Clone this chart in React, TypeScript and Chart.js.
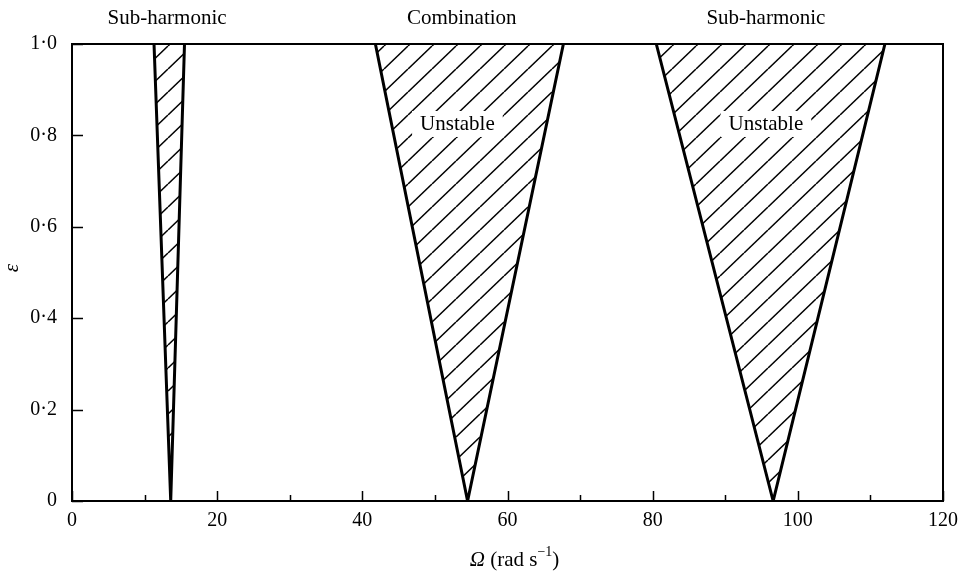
import React, { useEffect, useRef } from 'react';
import { Chart, registerables } from 'chart.js';

Chart.register(...registerables);

// Axis ranges and ticks
const X_MIN = 0;
const X_MAX = 120;
const X_STEP = 20;
const xMinorTicks = [10, 30, 50, 70, 90, 110];
const Y_MIN = 0;
const Y_MAX = 1.0;
const Y_STEP = 0.2;

// Unstable regions: Ω of the lower boundary at ε = 1, Ω at ε = 0, Ω of the upper boundary at ε = 1
const regionNames = ['Sub-harmonic', 'Combination', 'Sub-harmonic'];
const regionNameOmega = [13.1, 53.7, 95.6];
const lowerEdgeTopOmega = [11.3, 41.8, 80.5];
const apexOmega = [13.6, 54.5, 96.6];
const upperEdgeTopOmega = [15.5, 67.7, 112.0];
const epsTop = 1.0;
const epsApex = 0;

// "Unstable" annotations inside the wider regions
const unstableText = 'Unstable';
const unstableOmega = [53.1, 95.6];
const unstableEps = 0.825;

const SERIF = '"Liberation Serif", "Times New Roman", serif';
const W = 962;
const H = 572;

function makeHatch(ctx: CanvasRenderingContext2D): CanvasPattern | string {
  const tw = 24;
  const th = 23;
  const c = document.createElement('canvas');
  c.width = tw;
  c.height = th;
  const g = c.getContext('2d');
  if (!g) return '#fff';
  g.fillStyle = '#fff';
  g.fillRect(0, 0, tw, th);
  g.strokeStyle = '#000';
  g.lineWidth = 1.5;
  for (const dx of [-tw, 0, tw]) {
    g.beginPath();
    g.moveTo(dx, th);
    g.lineTo(dx + tw, 0);
    g.stroke();
  }
  return ctx.createPattern(c, 'repeat') || '#fff';
}

const decorPlugin = {
  id: 'decor',
  afterDatasetsDraw(chart: any) {
    const { ctx, chartArea: a, scales } = chart;
    const x = scales.x;
    const y = scales.y;
    ctx.save();

    // "Unstable" labels on white boxes
    ctx.font = `21px ${SERIF}`;
    ctx.textAlign = 'center';
    ctx.textBaseline = 'middle';
    unstableOmega.forEach((o) => {
      const px = x.getPixelForValue(o);
      const py = y.getPixelForValue(unstableEps);
      const w = ctx.measureText(unstableText).width;
      ctx.fillStyle = '#fff';
      ctx.fillRect(px - w / 2 - 8, py - 13, w + 16, 26);
      ctx.fillStyle = '#000';
      ctx.fillText(unstableText, px, py + 1);
    });

    // Frame
    ctx.strokeStyle = '#000';
    ctx.lineWidth = 2;
    ctx.strokeRect(a.left, a.top, a.right - a.left, a.bottom - a.top);

    // Inward tick marks
    ctx.lineWidth = 1.5;
    ctx.beginPath();
    for (let v = X_MIN; v <= X_MAX; v += X_STEP) {
      const px = Math.round(x.getPixelForValue(v)) + 0.5;
      ctx.moveTo(px, a.bottom);
      ctx.lineTo(px, a.bottom - 10);
    }
    xMinorTicks.forEach((v) => {
      const px = Math.round(x.getPixelForValue(v)) + 0.5;
      ctx.moveTo(px, a.bottom);
      ctx.lineTo(px, a.bottom - 6);
    });
    for (let v = Y_MIN; v <= Y_MAX + 1e-9; v += Y_STEP) {
      const py = Math.round(y.getPixelForValue(v)) + 0.5;
      ctx.moveTo(a.left, py);
      ctx.lineTo(a.left + 11, py);
    }
    ctx.stroke();

    // Region names above the plot
    ctx.fillStyle = '#000';
    ctx.font = `21px ${SERIF}`;
    ctx.textAlign = 'center';
    ctx.textBaseline = 'middle';
    regionNames.forEach((name, i) => {
      ctx.fillText(name, x.getPixelForValue(regionNameOmega[i]), 18);
    });

    // x-axis title: Ω (rad s^-1)
    const baseY = 566;
    const parts = [
      { t: 'Ω', f: `italic 21px ${SERIF}`, dy: 0 },
      { t: ' (rad s', f: `21px ${SERIF}`, dy: 0 },
      { t: '−1', f: `14px ${SERIF}`, dy: -10 },
      { t: ')', f: `21px ${SERIF}`, dy: 0 },
    ];
    let total = 0;
    parts.forEach((p) => {
      ctx.font = p.f;
      total += ctx.measureText(p.t).width;
    });
    let cx = (a.left + a.right) / 2 + 7 - total / 2;
    ctx.textAlign = 'left';
    ctx.textBaseline = 'alphabetic';
    parts.forEach((p) => {
      ctx.font = p.f;
      ctx.fillText(p.t, cx, baseY + p.dy);
      cx += ctx.measureText(p.t).width;
    });

    // y-axis title: ε
    ctx.save();
    ctx.translate(12, 268);
    ctx.rotate(-Math.PI / 2);
    ctx.font = `italic 21px ${SERIF}`;
    ctx.textAlign = 'center';
    ctx.textBaseline = 'middle';
    ctx.fillText('ε', 0, 0);
    ctx.restore();

    ctx.restore();
  },
};

export default function App() {
  const canvasRef = useRef<HTMLCanvasElement | null>(null);

  useEffect(() => {
    const canvas = canvasRef.current;
    if (!canvas) return;
    const ctx = canvas.getContext('2d');
    if (!ctx) return;
    const hatch = makeHatch(ctx);

    const datasets = regionNames.map((name, i) => ({
      label: name,
      data: [
        { x: lowerEdgeTopOmega[i], y: epsTop },
        { x: apexOmega[i], y: epsApex },
        { x: upperEdgeTopOmega[i], y: epsTop },
      ],
      borderColor: '#000',
      borderWidth: 3,
      borderJoinStyle: 'miter' as const,
      pointRadius: 0,
      tension: 0,
      fill: 'end' as const,
      backgroundColor: hatch,
    }));

    const chart = new Chart(ctx, {
      type: 'line',
      data: { datasets },
      options: {
        responsive: false,
        animation: false,
        layout: { padding: { left: 0, top: 44, right: 19, bottom: 0 } },
        plugins: {
          legend: { display: false },
          tooltip: { enabled: false },
        },
        scales: {
          x: {
            type: 'linear',
            min: X_MIN,
            max: X_MAX,
            grid: { display: false, drawTicks: false },
            border: { display: false },
            ticks: {
              stepSize: X_STEP,
              color: '#000',
              font: { family: SERIF, size: 20 },
              padding: 8,
              maxRotation: 0,
            },
            afterFit: (s: any) => {
              s.height = 71;
              s.paddingLeft = 0;
              s.paddingRight = 0;
            },
          },
          y: {
            type: 'linear',
            min: Y_MIN,
            max: Y_MAX,
            grid: { display: false, drawTicks: false },
            border: { display: false },
            ticks: {
              stepSize: Y_STEP,
              color: '#000',
              font: { family: SERIF, size: 20 },
              padding: 15,
              callback: (v: any) => {
                const n = Number(v);
                return n === 0 ? '0' : n.toFixed(1).replace('.', '·');
              },
            },
            afterFit: (s: any) => {
              s.width = 72;
              s.paddingTop = 0;
              s.paddingBottom = 0;
            },
          },
        },
      },
      plugins: [decorPlugin],
    });

    return () => chart.destroy();
  }, []);

  return (
    <div style={{ position: 'absolute', left: 0, top: 0, width: W, height: H, background: '#fff' }}>
      <canvas ref={canvasRef} width={W} height={H} style={{ display: 'block', width: W, height: H }} />
    </div>
  );
}
